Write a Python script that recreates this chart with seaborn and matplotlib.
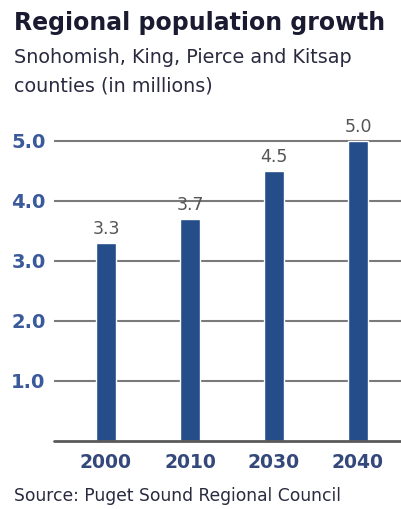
import matplotlib
matplotlib.use("Agg")
import matplotlib.pyplot as plt
import seaborn as sns
import pandas as pd

years = ["2000", "2010", "2030", "2040"]
population = [3.3, 3.7, 4.5, 5.0]
bar_labels = ["3.3", "3.7", "4.5", "5.0"]
y_ticks = [1.0, 2.0, 3.0, 4.0, 5.0]
y_tick_labels = ["1.0", "2.0", "3.0", "4.0", "5.0"]

title = "Regional population growth"
subtitle1 = "Snohomish, King, Pierce and Kitsap"
subtitle2 = "counties (in millions)"
source = "Source: Puget Sound Regional Council"

sns.set_theme(style="white")
plt.rcParams['font.family'] = ['DejaVu Sans']

W, H = 401, 509
fig = plt.figure(figsize=(W / 100, H / 100), dpi=100)
ax_left, ax_right = 54 / W, 1.0
ax_bottom = (H - 441) / H
ax_top = (H - 120) / H
ax = fig.add_axes([ax_left, ax_bottom, ax_right - ax_left, ax_top - ax_bottom])

df = pd.DataFrame({"year": years, "pop": population})
bar_color = "#244d8a"
sns.barplot(data=df, x="year", y="pop", color=bar_color, width=0.238,
            saturation=1, ax=ax, zorder=3)

for i, (v, lab) in enumerate(zip(population, bar_labels)):
    ax.text(i, v + 0.08, lab, ha="center", va="bottom", fontsize=12.5,
            color="#555555", zorder=4)

ax.set_xlim(-0.619, 3.512)
ax.set_ylim(0, 5.35)
ax.set_yticks(y_ticks)
ax.set_yticklabels(y_tick_labels)
for y in y_ticks:
    ax.axhline(y, color="#7a7a7a", lw=1.5, zorder=1)
ax.axhline(0, color="#5a5a5a", lw=2.0, zorder=5, clip_on=False)

for s in ax.spines.values():
    s.set_visible(False)
ax.tick_params(axis="both", length=0)
ax.tick_params(axis="y", pad=6)
ax.tick_params(axis="x", pad=9)
ax.set_xlabel("")
ax.set_ylabel("")
for t in ax.get_yticklabels():
    t.set_fontsize(14)
    t.set_fontweight("bold")
    t.set_color("#3a5a9c")
for t in ax.get_xticklabels():
    t.set_fontsize(13.5)
    t.set_fontweight("bold")
    t.set_color("#34487c")

fig.text(14 / W, 1 - 23 / H, title, fontsize=17, fontweight="bold",
         color="#1a1a30", ha="left", va="center")
fig.text(14 / W, 1 - 58 / H, subtitle1, fontsize=13.8,
         color="#2a2a40", ha="left", va="center")
fig.text(14 / W, 1 - 86 / H, subtitle2, fontsize=13.8,
         color="#2a2a40", ha="left", va="center")
fig.text(14 / W, 1 - 496 / H, source, fontsize=12.3,
         color="#2a2a40", ha="left", va="center")

fig.savefig("out.png", dpi=100)
